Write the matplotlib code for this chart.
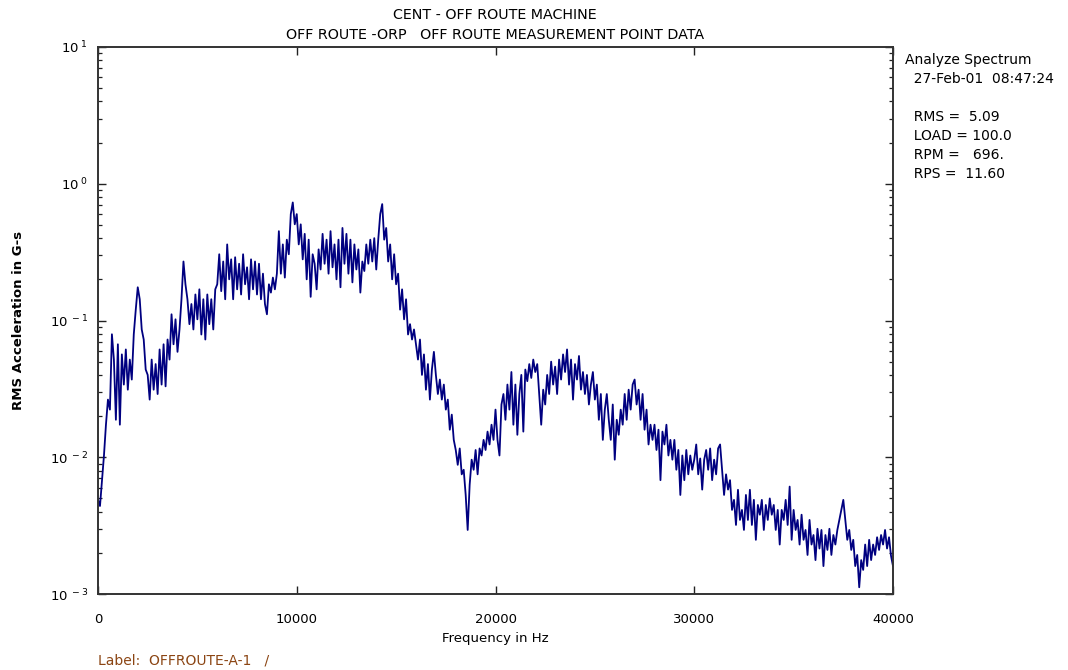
import numpy as np
import matplotlib
matplotlib.use("Agg")
import matplotlib.pyplot as plt
from matplotlib.ticker import FixedLocator, FuncFormatter, LogLocator, NullFormatter

plt.rcParams['font.family'] = ['DejaVu Sans']
plt.rcParams['font.size'] = 9

# RMS acceleration (G-s), one value per 100 Hz bin (2 kHz per row)
accel = [
    0.0049, 0.0044, 0.0068, 0.0103, 0.0173, 0.0264, 0.0223, 0.0793, 0.0518, 0.0188,
    0.067, 0.0173, 0.0565, 0.034, 0.0614, 0.0312, 0.0518, 0.037, 0.0793, 0.12,
    0.175, 0.143, 0.086, 0.0726, 0.0438, 0.040, 0.0264, 0.0518, 0.0312, 0.048,
    0.029, 0.0614, 0.034, 0.067, 0.033, 0.0726, 0.0518, 0.111, 0.067, 0.102,
    0.059, 0.086, 0.143, 0.27, 0.184, 0.143, 0.094, 0.132, 0.086, 0.155,
    0.102, 0.169, 0.079, 0.143, 0.0726, 0.155, 0.094, 0.143, 0.086, 0.169,
    0.184, 0.305, 0.164, 0.27, 0.143, 0.36, 0.2, 0.28, 0.143, 0.29,
    0.169, 0.26, 0.155, 0.305, 0.184, 0.245, 0.143, 0.28, 0.169, 0.27,
    0.155, 0.26, 0.143, 0.22, 0.132, 0.111, 0.184, 0.16, 0.206, 0.169,
    0.22, 0.45, 0.22, 0.36, 0.206, 0.39, 0.305, 0.6, 0.73, 0.505,
    0.6, 0.36, 0.505, 0.28, 0.43, 0.2, 0.39, 0.149, 0.305, 0.26,
    0.169, 0.331, 0.236, 0.43, 0.26, 0.39, 0.22, 0.45, 0.245, 0.36,
    0.2, 0.39, 0.175, 0.475, 0.26, 0.43, 0.22, 0.39, 0.19, 0.36,
    0.236, 0.331, 0.16, 0.27, 0.23, 0.36, 0.26, 0.39, 0.27, 0.40,
    0.236, 0.39, 0.6, 0.71, 0.39, 0.475, 0.27, 0.36, 0.2, 0.305,
    0.184, 0.22, 0.12, 0.169, 0.102, 0.143, 0.079, 0.094, 0.0726, 0.086,
    0.067, 0.0518, 0.0726, 0.040, 0.0565, 0.0312, 0.048, 0.0264, 0.0438, 0.059,
    0.040, 0.029, 0.037, 0.0264, 0.034, 0.0223, 0.0264, 0.0159, 0.0205, 0.0134,
    0.0113, 0.0088, 0.0116, 0.0075, 0.0081, 0.0053, 0.00294, 0.0063, 0.0096, 0.0081,
    0.0113, 0.0075, 0.0116, 0.0103, 0.0134, 0.0113, 0.0154, 0.0124, 0.0173, 0.0134,
    0.0223, 0.0134, 0.0103, 0.0243, 0.029, 0.0188, 0.034, 0.0223, 0.042, 0.0173,
    0.034, 0.0146, 0.029, 0.040, 0.0154, 0.0438, 0.036, 0.048, 0.038, 0.0518,
    0.042, 0.048, 0.029, 0.0173, 0.0312, 0.0243, 0.040, 0.029, 0.050, 0.034,
    0.046, 0.029, 0.0518, 0.037, 0.0565, 0.042, 0.0614, 0.034, 0.0518, 0.0264,
    0.048, 0.037, 0.055, 0.0312, 0.042, 0.029, 0.040, 0.0243, 0.034, 0.042,
    0.0264, 0.034, 0.0188, 0.029, 0.0134, 0.0223, 0.029, 0.0188, 0.0134, 0.0243,
    0.0096, 0.0188, 0.0146, 0.0223, 0.0173, 0.029, 0.0188, 0.0312, 0.0223, 0.034,
    0.037, 0.0243, 0.0312, 0.0188, 0.029, 0.0159, 0.0223, 0.0124, 0.0173, 0.0134,
    0.0173, 0.0113, 0.0159, 0.0068, 0.0154, 0.0124, 0.0173, 0.0103, 0.0134, 0.0096,
    0.0134, 0.0081, 0.0113, 0.0053, 0.0103, 0.0068, 0.0113, 0.0075, 0.0103, 0.0081,
    0.0096, 0.0124, 0.0075, 0.0098, 0.0058, 0.0096, 0.0113, 0.0081, 0.0116, 0.0068,
    0.0096, 0.0075, 0.0116, 0.0124, 0.0081, 0.0053, 0.0075, 0.0058, 0.0068, 0.00412,
    0.00488, 0.0032, 0.00578, 0.00348, 0.00412, 0.00294, 0.0053, 0.00348, 0.00578, 0.0032,
    0.00488, 0.00249, 0.00448, 0.0038, 0.00488, 0.00294, 0.00448, 0.00348, 0.0050, 0.0038,
    0.00448, 0.00294, 0.00412, 0.0023, 0.00412, 0.00348, 0.00488, 0.0032, 0.0061, 0.00249,
    0.00412, 0.00294, 0.00348, 0.0023, 0.0038, 0.00249, 0.00294, 0.00193, 0.00348, 0.0023,
    0.0027, 0.00177, 0.003, 0.00215, 0.00294, 0.0016, 0.0027, 0.0021, 0.003, 0.00193,
    0.0027, 0.0023, 0.00294, 0.00348, 0.00412, 0.00488, 0.00348, 0.00249, 0.00294, 0.0021,
    0.00249, 0.0016, 0.00193, 0.00112, 0.00177, 0.0015, 0.0023, 0.0016, 0.00249, 0.00177,
    0.0023, 0.00193, 0.0026, 0.0021, 0.0027, 0.0023, 0.00294, 0.00215, 0.0026, 0.0019,
    0.0016,
]
freq = np.linspace(0, 40000, len(accel))

x_ticks = [0, 10000, 20000, 30000, 40000]
y_ticks = [1e-3, 1e-2, 1e-1, 1e0, 1e1]

title_lines = ["CENT - OFF ROUTE MACHINE",
               "OFF ROUTE -ORP   OFF ROUTE MEASUREMENT POINT DATA"]
info_lines = ["Analyze Spectrum", "  27-Feb-01  08:47:24", "",
              "  RMS =  5.09", "  LOAD = 100.0", "  RPM =   696.", "  RPS =  11.60"]


def main():
    fig = plt.figure(figsize=(10.68, 6.70), dpi=100)
    ax = fig.add_axes([98 / 1068, 1 - 594 / 670, 795 / 1068, 547 / 670])

    ax.plot(freq, accel, color="#000080", linewidth=1.3)

    ax.set_yscale("log")
    ax.set_xlim(0, 40000)
    ax.set_ylim(1e-3, 1e1)

    ax.xaxis.set_major_locator(FixedLocator(x_ticks))
    ax.xaxis.set_major_formatter(FuncFormatter(lambda v, p: "%d" % v))
    ax.yaxis.set_major_locator(FixedLocator(y_ticks))
    ax.yaxis.set_major_formatter(
        FuncFormatter(lambda v, p: r"$\mathregular{10^{\ %d}}$" % round(np.log10(v))))
    ax.yaxis.set_minor_locator(LogLocator(base=10, subs=np.arange(2, 10)))
    ax.yaxis.set_minor_formatter(NullFormatter())

    ax.tick_params(which="both", direction="in", top=True, right=True,
                   colors="#222222", labelcolor="black", labelsize=9.5)
    ax.tick_params(which="major", length=6, width=1.0)
    ax.tick_params(which="minor", length=3, width=0.9)
    ax.tick_params(axis="x", pad=14)
    ax.tick_params(axis="y", pad=7)
    for s in ax.spines.values():
        s.set_linewidth(1.4)
        s.set_color("#333333")

    ax.set_xlabel("Frequency in Hz", fontsize=9.5)
    ax.xaxis.set_label_coords(0.5, -(632 - 594) / 547)
    ax.set_ylabel("RMS Acceleration in G-s", fontsize=9.5, fontweight="bold")
    ax.yaxis.set_label_coords(-(98 - 25) / 795, 0.5)

    fig.text(495 / 1068, 1 - 15 / 670, title_lines[0], ha="center", va="center", fontsize=10.3)
    fig.text(495 / 1068, 1 - 35 / 670, title_lines[1], ha="center", va="center", fontsize=10.3)

    for i, line in enumerate(info_lines):
        fig.text(905 / 1068, 1 - (60 + i * 19) / 670, line, ha="left", va="center", fontsize=10)

    fig.text(98 / 1068, 1 - 661 / 670, "Label:  OFFROUTE-A-1   /", ha="left", va="center",
             fontsize=10, color="#8B4513")

    fig.savefig("out.png", dpi=100, facecolor="white")


if __name__ == "__main__":
    main()
